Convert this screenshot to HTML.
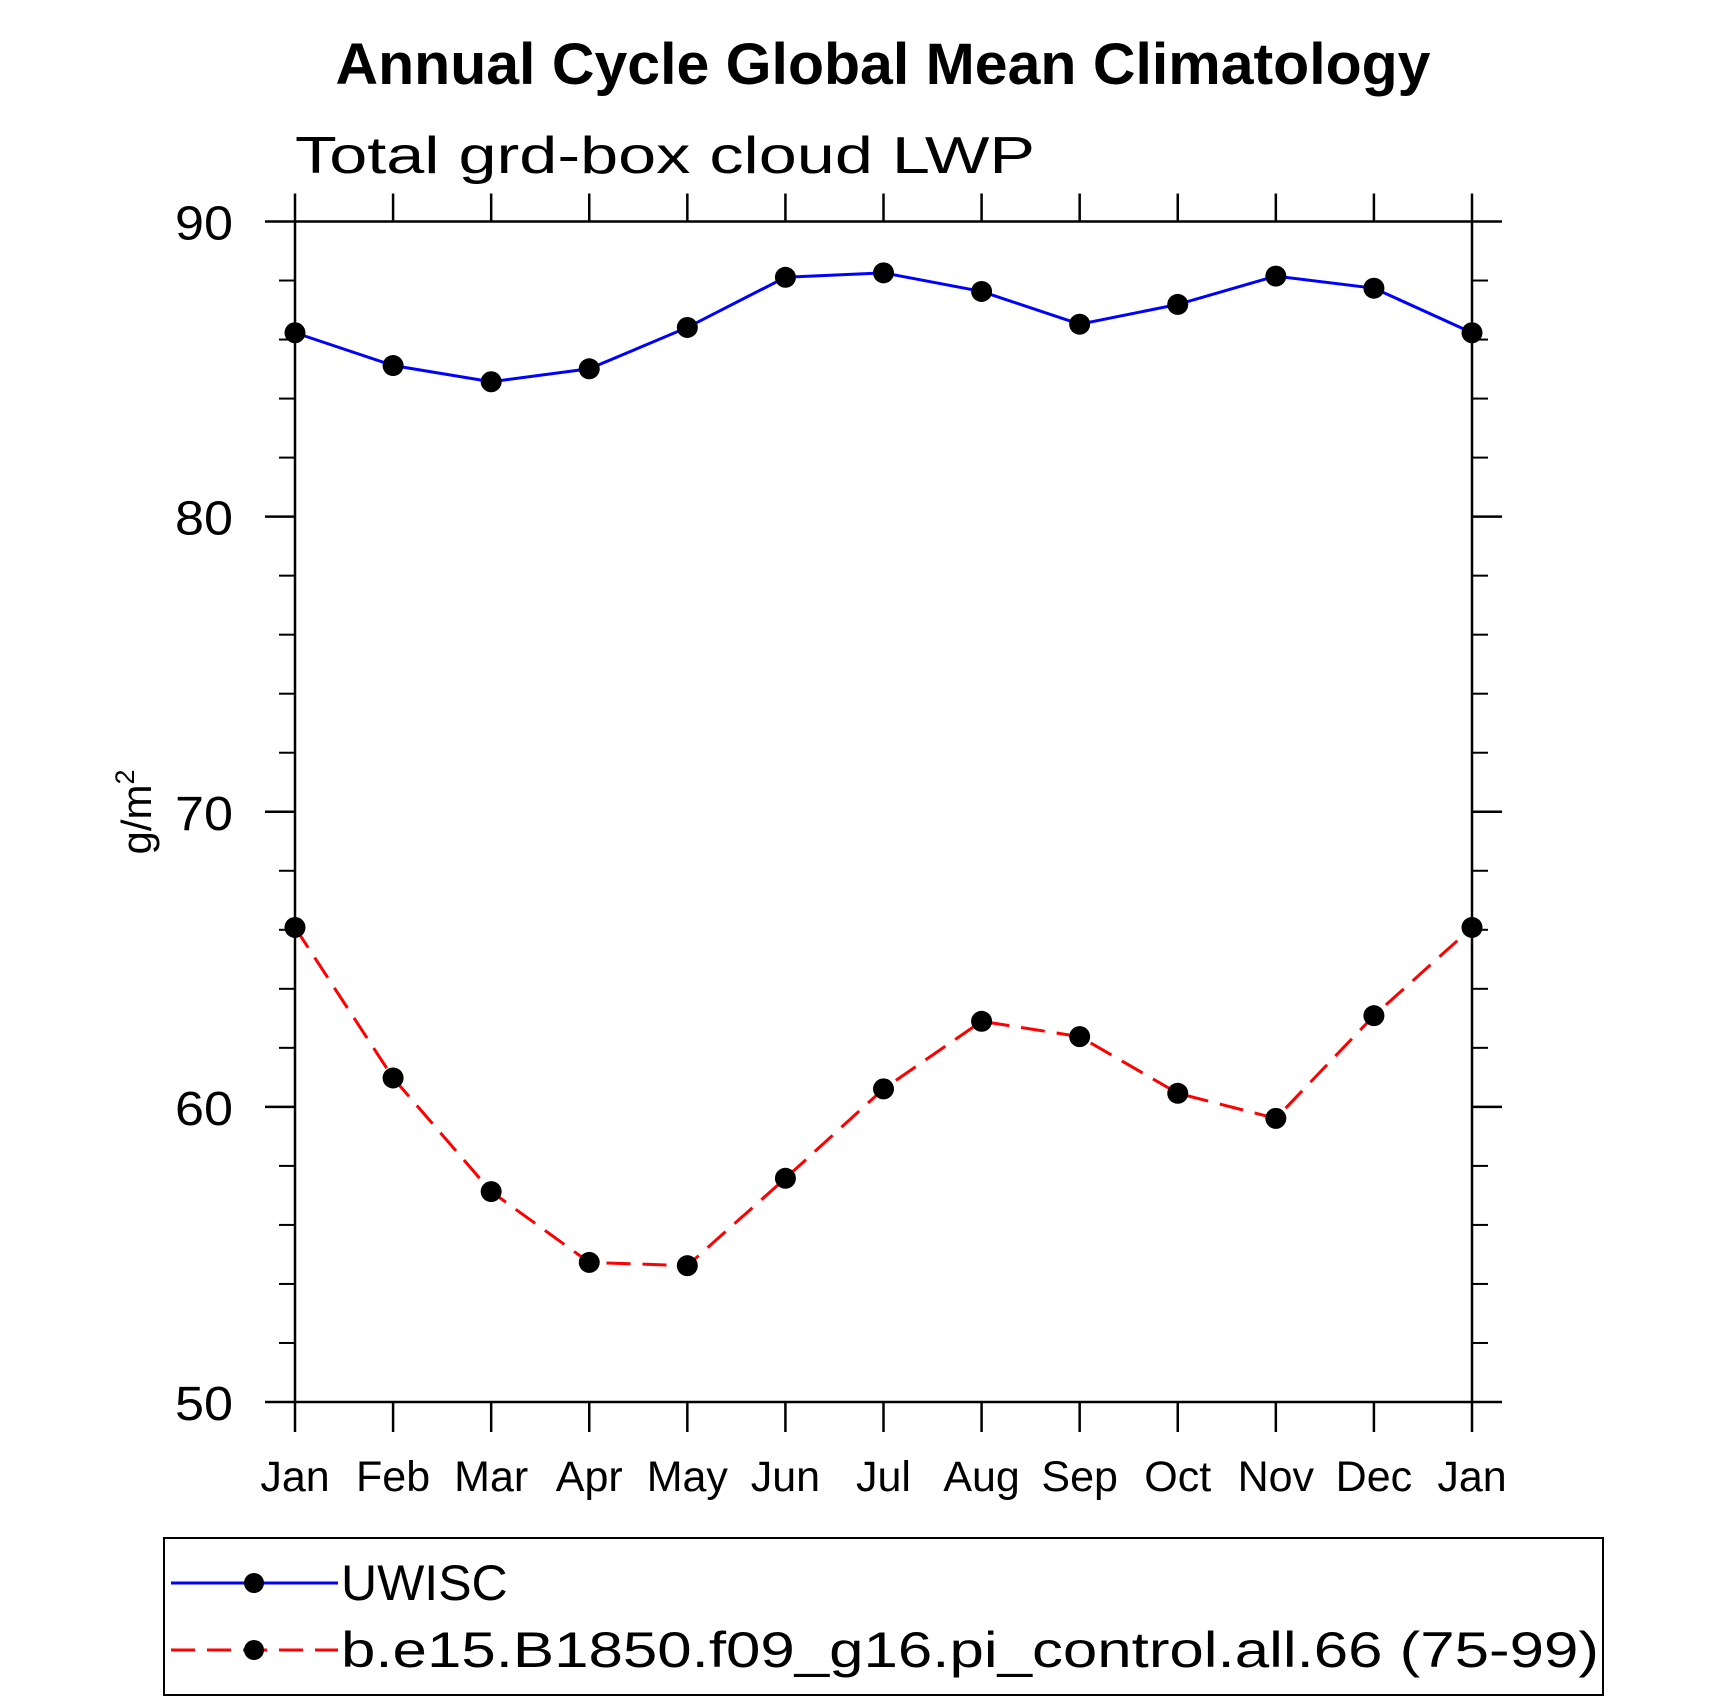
<!DOCTYPE html>
<html><head><meta charset="utf-8"><style>
html,body{margin:0;padding:0;background:#fff}
svg{display:block}
text{font-family:"Liberation Sans","DejaVu Sans",sans-serif}
</style></head><body>
<svg id="chart" width="1710" height="1702" viewBox="0 0 1710 1702" xmlns="http://www.w3.org/2000/svg">
<rect width="1710" height="1702" fill="#fff"/>
<text x="883" y="84" text-anchor="middle" font-size="58" font-weight="bold" textLength="1095" lengthAdjust="spacingAndGlyphs">Annual Cycle Global Mean Climatology</text>
<text x="295" y="173" font-size="52" font-weight="normal" textLength="740" lengthAdjust="spacingAndGlyphs">Total grd-box cloud LWP</text>
<text transform="translate(151,812) rotate(-90)" text-anchor="middle" font-size="42">g/m<tspan dy="-17" font-size="27">2</tspan></text>
<g id="axes"></g>
<g id="series"></g>
<rect x="164" y="1538" width="1439" height="157" fill="none" stroke="#000" stroke-width="2"/>
<g>
<line x1="171" y1="1583" x2="338" y2="1583" stroke="#0000ff" stroke-width="3"/>
<circle cx="254" cy="1583" r="10" fill="#000"/>
<text x="341" y="1600" font-size="50">UWISC</text>
</g>
<g>
<line x1="171" y1="1650" x2="338" y2="1650" stroke="#ff0000" stroke-width="3" stroke-dasharray="24,12"/>
<circle cx="254" cy="1650" r="10" fill="#000"/>
<text x="341" y="1667" font-size="50" textLength="1258" lengthAdjust="spacingAndGlyphs">b.e15.B1850.f09_g16.pi_control.all.66 (75-99)</text>
</g>
</svg>
<script>
const months = ["Jan","Feb","Mar","Apr","May","Jun","Jul","Aug","Sep","Oct","Nov","Dec","Jan"];
const uwisc = [86.23,85.12,84.57,85.01,86.41,88.11,88.26,87.63,86.52,87.19,88.15,87.74,86.23];
const model = [66.08,60.98,57.13,54.73,54.62,57.58,60.61,62.90,62.38,60.46,59.61,63.09,66.08];
const yTicks = [50,60,70,80,90];
const yMinor = [52,54,56,58,62,64,66,68,72,74,76,78,82,84,86,88];

const NS="http://www.w3.org/2000/svg";
const L=295,R=1472,T=221.5,B=1402,yMin=50,yMax=90;
const xs=i=>L+(R-L)*i/(months.length-1);
const ys=v=>B-(v-yMin)/(yMax-yMin)*(B-T);
function mk(tag,attrs,parent){const e=document.createElementNS(NS,tag);for(const k in attrs)e.setAttribute(k,attrs[k]);parent.appendChild(e);return e;}
const ax=document.getElementById('axes');
const frame=mk('rect',{x:L,y:T,width:R-L,height:B-T,fill:'none',stroke:'#000','stroke-width':2.5},ax);


yTicks.forEach(v=>{
  const y=ys(v);
  mk('line',{x1:L-30,y1:y,x2:L,y2:y,stroke:'#000','stroke-width':2.5},ax);
  mk('line',{x1:R,y1:y,x2:R+30,y2:y,stroke:'#000','stroke-width':2.5},ax);
  const t=mk('text',{x:L-62,y:y+18,'text-anchor':'end','font-size':48,textLength:58,lengthAdjust:'spacingAndGlyphs'},ax);
  t.textContent=v;
  
  
});
yMinor.forEach(v=>{
  const y=ys(v);
  mk('line',{x1:L-16,y1:y,x2:L,y2:y,stroke:'#000','stroke-width':2},ax);
  mk('line',{x1:R,y1:y,x2:R+16,y2:y,stroke:'#000','stroke-width':2},ax);
});
months.forEach((m,i)=>{
  const x=xs(i);
  mk('line',{x1:x,y1:B,x2:x,y2:B+30,stroke:'#000','stroke-width':2.5},ax);
  mk('line',{x1:x,y1:T-28,x2:x,y2:T,stroke:'#000','stroke-width':2.5},ax);
  const t=mk('text',{x:x,y:1491,'text-anchor':'middle','font-size':43},ax);
  t.textContent=m;
  
  
});
const sg=document.getElementById('series');
function drawSeries(vals,color,dash,name){
  const g=mk('g',{},sg);
  
  
  const pts=vals.map((v,i)=>xs(i)+','+ys(v)).join(' ');
  const attrs={points:pts,fill:'none',stroke:color,'stroke-width':3};
  if(dash)attrs['stroke-dasharray']=dash;
  mk('polyline',attrs,g);
  vals.forEach((v,i)=>{
    const c=mk('circle',{cx:xs(i),cy:ys(v),r:10.5,fill:'#000'},g);
    
    
  });
}
drawSeries(uwisc,'#0000ff',null,'uwisc-line');
drawSeries(model,'#ff0000','24,12','model-line');
</script>
</body></html>
